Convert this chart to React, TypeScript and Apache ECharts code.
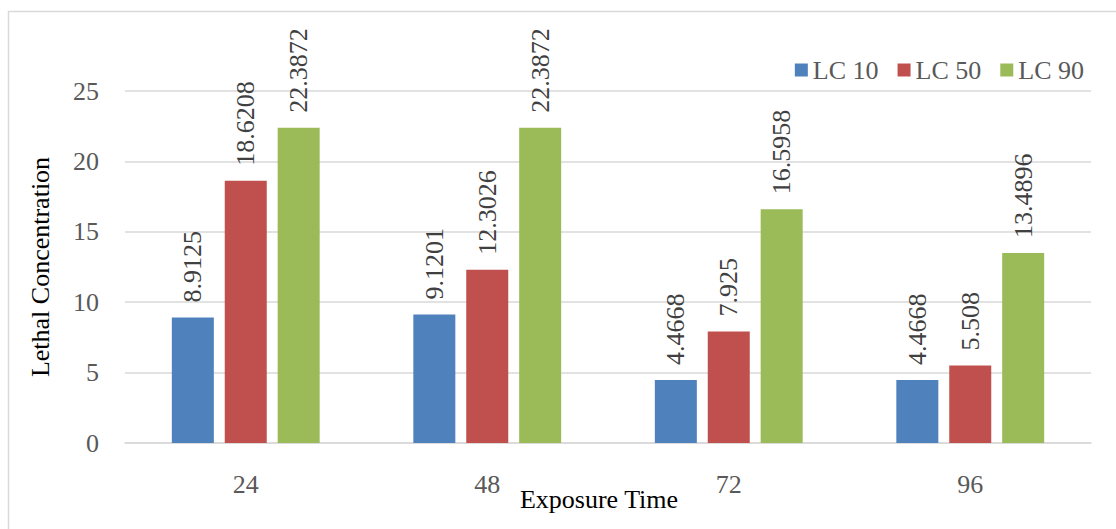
import React, { useEffect, useRef } from "react";
import * as echarts from "echarts";

const categories = ["24", "48", "72", "96"];
const lc10 = [8.9125, 9.1201, 4.4668, 4.4668];
const lc50 = [18.6208, 12.3026, 7.925, 5.508];
const lc90 = [22.3872, 22.3872, 16.5958, 13.4896];
const seriesNames = ["LC 10", "LC 50", "LC 90"];
const colors = ["#4F81BD", "#C0504D", "#9BBB59"];

const FONT = "Liberation Serif";
const BAR_WIDTH = 42;
const BAR_GAP = 0.26;

export default function App() {
  const ref = useRef<HTMLDivElement>(null);

  useEffect(() => {
    if (!ref.current) return;
    const chart = echarts.init(ref.current, undefined, { renderer: "svg" });
    const values = [lc10, lc50, lc90];
    const pitch = BAR_WIDTH * (1 + BAR_GAP);

    const barSeries = seriesNames.map((name, i) => ({
      name,
      type: "bar",
      data: values[i],
      barWidth: BAR_WIDTH,
      barGap: `${BAR_GAP * 100}%`,
      itemStyle: { color: colors[i] },
    }));

    // Rotated value labels sitting above each bar
    const labelSeries = values.map((vals, i) => ({
      type: "custom",
      coordinateSystem: "cartesian2d",
      clip: false,
      silent: true,
      z: 5,
      data: vals.map((v, j) => [j, v]),
      encode: { x: 0, y: 1 },
      renderItem: (_params: any, api: any) => {
        const v = api.value(1);
        const p = api.coord([api.value(0), v]);
        return {
          type: "text",
          x: p[0] + (i - 1) * pitch,
          y: p[1] - 15,
          rotation: Math.PI / 2,
          style: {
            text: String(v),
            fontFamily: FONT,
            fontSize: 26,
            fill: "#404040",
            align: "left",
            verticalAlign: "middle",
          },
        };
      },
    }));

    chart.setOption({
      animation: false,
      backgroundColor: "#ffffff",
      textStyle: { fontFamily: FONT },
      grid: { left: 125, right: 25, top: 91, bottom: 86, containLabel: false },
      legend: {
        data: seriesNames,
        right: 27,
        top: 52,
        itemWidth: 13,
        itemHeight: 13,
        itemGap: 19,
        icon: "rect",
        textStyle: { fontFamily: FONT, fontSize: 26, color: "#595959" },
      },
      xAxis: {
        type: "category",
        data: categories,
        axisLine: { lineStyle: { color: "#D9D9D9", width: 1.5 } },
        axisTick: { show: false },
        axisLabel: { fontFamily: FONT, fontSize: 26, color: "#595959", margin: 28 },
      },
      yAxis: {
        type: "value",
        min: 0,
        max: 25,
        interval: 5,
        axisLine: { show: false },
        axisTick: { show: false },
        splitLine: { lineStyle: { color: "#D9D9D9", width: 1.5 } },
        axisLabel: { fontFamily: FONT, fontSize: 26, color: "#595959", margin: 26 },
      },
      series: [...barSeries, ...labelSeries],
      graphic: [
        {
          type: "rect",
          shape: { x: 8.5, y: 11.5, width: 1200, height: 600 },
          style: { fill: "none", stroke: "#D9D9D9", lineWidth: 1.5 },
          silent: true,
        },
        {
          type: "text",
          x: 599,
          y: 499,
          style: {
            text: "Exposure Time",
            fontFamily: FONT,
            fontSize: 26,
            fill: "#000000",
            align: "center",
            verticalAlign: "middle",
          },
        },
        {
          type: "text",
          x: 40,
          y: 267,
          rotation: Math.PI / 2,
          style: {
            text: "Lethal Concentration",
            fontFamily: FONT,
            fontSize: 26,
            fill: "#000000",
            align: "center",
            verticalAlign: "middle",
          },
        },
      ],
    });

    return () => chart.dispose();
  }, []);

  return (
    <div
      ref={ref}
      style={{ position: "fixed", left: 0, top: 0, width: 1116, height: 529 }}
    />
  );
}
